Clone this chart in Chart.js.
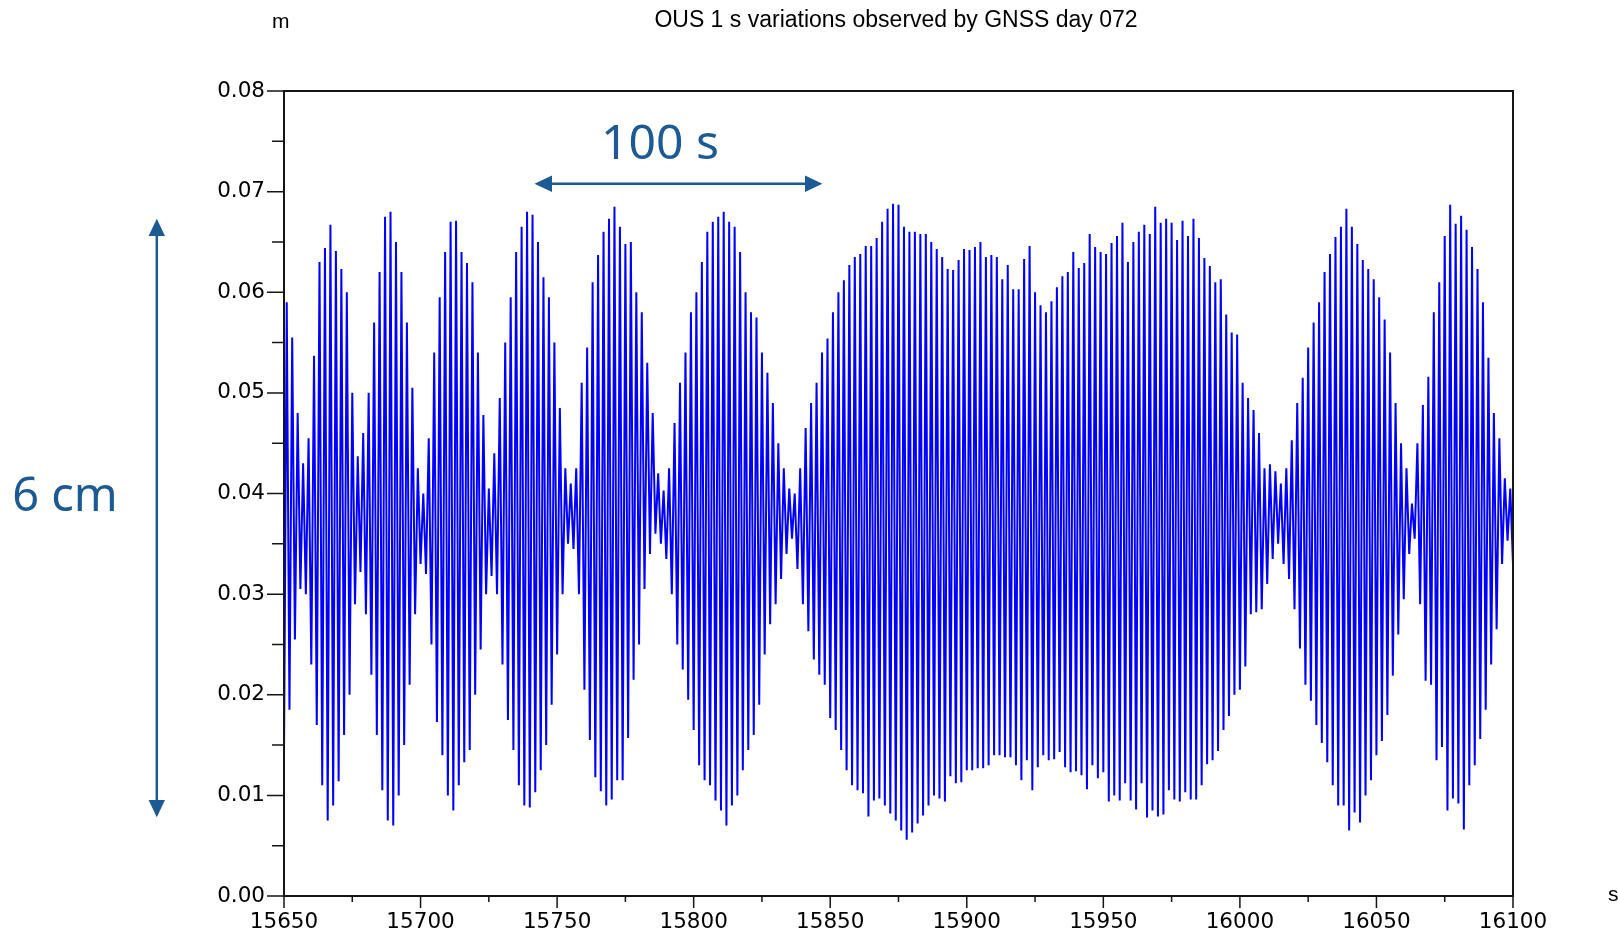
<!DOCTYPE html>
<html>
<head>
<meta charset="utf-8">
<title>OUS 1 s variations observed by GNSS day 072</title>
<script src="https://cdn.jsdelivr.net/npm/chart.js@4.4.1/dist/chart.umd.min.js"></script>
<style>
  html, body { margin: 0; padding: 0; background: #fff; overflow: hidden; }
  #wrap { position: relative; width: 1618px; height: 935px; }
  #ous { position: absolute; left: 0; top: 0; }
  .txt { position: absolute; font-family: "Liberation Sans", Arial, sans-serif; color: #000; white-space: nowrap; line-height: 1; }
  .note { position: absolute; font-family: "Noto Sans", sans-serif; color: #1b5a94; white-space: nowrap; line-height: 1; }
  svg { position: absolute; left: 0; top: 0; }
</style>
</head>
<body>
<div id="wrap">
  <canvas id="ous" width="1618" height="935"></canvas>
  <div class="txt" id="title" style="left:896px; top:8px; font-size:23px; transform:translateX(-50%);">OUS 1 s variations observed by GNSS day 072</div>
  <div class="txt" style="left:272px; top:10px; font-size:21px;">m</div>
  <div class="txt" style="left:1608px; top:883px; font-size:21px;">s</div>
  <div class="note" style="left:660px; top:117px; font-size:48px; transform:translateX(-50%);">100 s</div>
  <div class="note" style="left:65px; top:470px; font-size:47px; transform:translateX(-50%);">6 cm</div>
  <svg width="1618" height="935">
    <g stroke="#1b5a94" stroke-width="2.5" fill="#1b5a94">
      <line x1="550" y1="183.7" x2="807" y2="183.7"/>
      <polygon points="534.5,183.7 552,175.5 552,191.9" stroke="none"/>
      <polygon points="822.4,183.7 805,175.5 805,191.9" stroke="none"/>
      <line x1="156.8" y1="234" x2="156.8" y2="802"/>
      <polygon points="156.8,218.8 148.6,236 165,236" stroke="none"/>
      <polygon points="156.8,817.3 148.6,800 165,800" stroke="none"/>
    </g>
  </svg>
</div>
<script>
// OUS height, 1 s samples from 15650 s to 16100 s, in mm
const ous15650 = [14, 59, 18.5, 55.5, 25.5, 48, 30.5, 43, 30, 45.5,
  23, 53.7, 17, 63, 11, 64.4, 7.5, 66.7, 9, 64.1,
  11.4, 62.3, 16, 60, 20, 50, 29, 43.7, 32.2, 46,
  28, 50, 22, 57, 16, 62, 10.5, 67.5, 7.5, 68,
  7, 65, 10, 62, 15, 57, 21, 50.5, 28, 42.5];
const ous15700 = [33, 40, 32, 45.5, 25, 54, 17.3, 59.5, 14, 64,
  10, 67, 8.5, 67.1, 11, 64, 13.3, 62.9, 14.5, 61,
  20, 54, 24.5, 47.8, 30, 40.5, 31.8, 44, 30, 49.5,
  23, 55, 17.5, 59.5, 14.5, 64, 11, 66.5, 9, 68,
  8.8, 67.7, 10.3, 65, 12.5, 61.5, 15, 59.5, 19, 55];
const ous15750 = [24, 48.5, 30, 42.5, 35, 41, 34.5, 42.5, 30, 51,
  20.5, 54.5, 15.5, 61, 11.8, 63.7, 10.4, 66, 9, 67.3,
  9.6, 68.5, 11.5, 66.5, 11.5, 64.8, 15.7, 65, 21.5, 60,
  25, 58, 30.5, 53, 34, 48, 36, 42, 35, 40.3,
  33.5, 42.5, 30, 47, 25, 51, 22.5, 54, 19.5, 58];
const ous15800 = [16.5, 60, 13, 63, 11.5, 66, 11, 67, 9.5, 67.5,
  8.5, 68, 7, 67, 9, 66.5, 10, 64, 12.5, 60,
  14.5, 58, 16, 57.5, 19, 54, 24, 52, 27, 49,
  29, 45, 31.5, 42.5, 34, 40.5, 35.5, 40, 32.5, 42.5,
  29, 46.5, 26.3, 49, 23.5, 51, 22, 54, 21, 55.4];
const ous15850 = [17.7, 58, 16.5, 60, 14.5, 61.2, 12.5, 62.7, 11, 63.5,
  10.5, 63.8, 10.2, 64.6, 7.9, 64.6, 9.5, 65.4, 9.7, 67,
  9, 68.3, 8.2, 68.8, 7.5, 68.7, 6.5, 66.5, 5.6, 66,
  6.3, 66, 7.2, 65.8, 8, 65.8, 9, 65, 10, 64.3,
  9.7, 63.5, 9.4, 62.3, 11.9, 62.2, 11.2, 63.2, 11.3, 64.3];
const ous15900 = [12.5, 64.2, 12.5, 64.5, 12.7, 65, 12.7, 63.5, 13, 63.7,
  14, 63.5, 14, 61.3, 13.8, 62.7, 13.8, 60.3, 13, 60.3,
  11.5, 63.3, 13.5, 64.6, 10.5, 60, 12.8, 58.7, 14, 58,
  13.5, 59.1, 13.6, 60.5, 14.3, 61.6, 12.8, 62, 12.3, 64,
  12.4, 62.4, 12, 62.9, 10.6, 65.8, 13, 64.5, 11.7, 64];
const ous15950 = [12.3, 63.8, 9.4, 64.9, 10, 65.6, 9.5, 66.9, 11.2, 63,
  9.5, 65, 8.6, 66, 11.2, 66.7, 7.8, 65.8, 8.5, 68.5,
  7.9, 66.9, 8.1, 67.3, 10.5, 66.9, 9.6, 65.2, 9.4, 67.1,
  10.3, 65.6, 9.6, 67.3, 9.6, 65.4, 11, 63.4, 13.1, 62.6,
  13.5, 61, 14.4, 61.3, 16.5, 57.8, 17.9, 56, 20, 55.8];
const ous16000 = [20.5, 51, 22.8, 49.5, 28, 48.3, 28.2, 46, 28.5, 42.5,
  31, 42.9, 33.5, 42.2, 35, 41, 33, 42.5, 31.5, 45.3,
  28.5, 49, 24.6, 51.5, 21, 54.5, 19.4, 57, 17, 59,
  15.2, 62, 13.3, 63.8, 11, 65.5, 9, 66.5, 9, 68.3,
  6.5, 66.5, 8.3, 64.8, 7.3, 63.2, 10, 62.3, 11.5, 61.3];
const ous16050 = [14, 59.5, 15.4, 57.3, 18, 54, 21.9, 49, 26, 45,
  29.5, 42.5, 34, 39, 35.5, 45, 29, 48.8, 21.4, 51.6,
  21, 58, 13.5, 61, 14.8, 65.6, 8.5, 68.7, 9.7, 66.8,
  9.2, 67.6, 6.6, 66.2, 11, 64.5, 13, 62.3, 15.6, 59,
  18.5, 53.5, 23, 48, 26.5, 45.5, 33, 41.5, 35.3, 40.5,
  33];

const T_START = 15650;           // first sample, s
const xTicks      = [15650, 15700, 15750, 15800, 15850, 15900, 15950, 16000, 16050, 16100];
const xTickLabels = ['15650', '15700', '15750', '15800', '15850', '15900', '15950', '16000', '16050', '16100'];
const xMinor      = [15675, 15725, 15775, 15825, 15875, 15925, 15975, 16025, 16075];
const yTicks      = [0, 0.01, 0.02, 0.03, 0.04, 0.05, 0.06, 0.07, 0.08];
const yTickLabels = ['0.00', '0.01', '0.02', '0.03', '0.04', '0.05', '0.06', '0.07', '0.08'];
const yMinor      = [0.005, 0.015, 0.025, 0.035, 0.045, 0.055, 0.065, 0.075];

const mm = [...ous15650, ...ous15700, ...ous15750, ...ous15800, ...ous15850,
            ...ous15900, ...ous15950, ...ous16000, ...ous16050];
const points = mm.map((v, i) => ({ x: T_START + i, y: v / 1000 }));

// plot frame + outward tick marks (long majors, short minors)
const frameTicks = {
  id: 'frameTicks',
  afterDatasetsDraw(chart) {
    const { ctx, chartArea: a, scales: { x, y } } = chart;
    ctx.save();
    ctx.strokeStyle = '#151515';
    ctx.lineWidth = 1.5;
    ctx.beginPath();
    yTicks.forEach(v => { const p = y.getPixelForValue(v); ctx.moveTo(a.left - 17, p); ctx.lineTo(a.left, p); });
    yMinor.forEach(v => { const p = y.getPixelForValue(v); ctx.moveTo(a.left - 12, p); ctx.lineTo(a.left, p); });
    xTicks.forEach(v => { const p = x.getPixelForValue(v); ctx.moveTo(p, a.bottom); ctx.lineTo(p, a.bottom + 12); });
    xMinor.forEach(v => { const p = x.getPixelForValue(v); ctx.moveTo(p, a.bottom); ctx.lineTo(p, a.bottom + 6); });
    ctx.stroke();
    ctx.lineWidth = 2;
    ctx.strokeRect(a.left, a.top, a.right - a.left, a.bottom - a.top);
    ctx.restore();
  }
};

const tickFont = { family: '"DejaVu Sans", sans-serif', size: 21.5 };

new Chart(document.getElementById('ous').getContext('2d'), {
  type: 'line',
  data: { datasets: [{
    data: points,
    borderColor: '#0000ff',
    borderWidth: 2,
    borderJoinStyle: 'bevel',
    pointRadius: 0,
    tension: 0,
    fill: false,
  }] },
  options: {
    responsive: false,
    animation: false,
    events: [],
    layout: { padding: { left: 0, top: 91, right: 105, bottom: 0 } },
    plugins: { legend: { display: false }, tooltip: { enabled: false }, title: { display: false } },
    scales: {
      x: {
        type: 'linear', min: 15650, max: 16100,
        afterBuildTicks: s => { s.ticks = xTicks.map(v => ({ value: v })); },
        afterFit: s => { s.height = 39; },
        grid: { display: false, drawTicks: false },
        border: { display: false },
        ticks: { callback: (v, i) => xTickLabels[i], color: '#000', font: tickFont, padding: 14, maxRotation: 0, autoSkip: false },
      },
      y: {
        min: 0, max: 0.08,
        afterBuildTicks: s => { s.ticks = yTicks.map(v => ({ value: v })); },
        afterFit: s => { s.width = 284; },
        grid: { display: false, drawTicks: false },
        border: { display: false },
        ticks: { callback: (v, i) => yTickLabels[i], color: '#000', font: tickFont, padding: 19, autoSkip: false },
      },
    },
  },
  plugins: [frameTicks],
});
</script>
</body>
</html>
